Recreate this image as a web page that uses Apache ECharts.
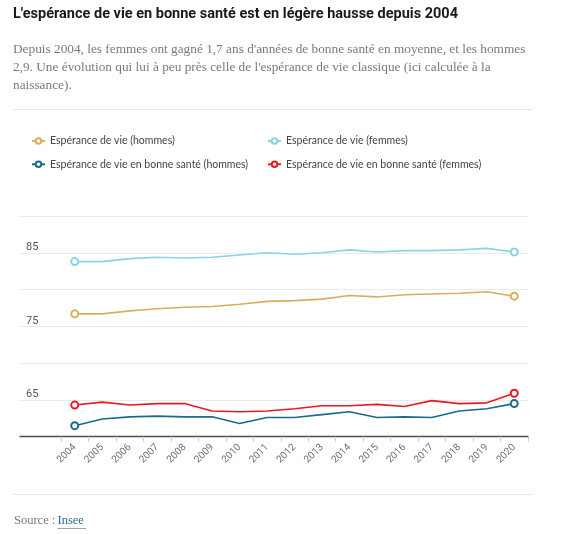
<!DOCTYPE html>
<html>
<head>
<meta charset="utf-8">
<script src="https://cdn.jsdelivr.net/npm/echarts@6/dist/echarts.min.js"></script>
<style>
  html, body { margin: 0; padding: 0; background: #fff; }
  #main { width: 561px; height: 534px; }
</style>
</head>
<body>
<div id="main"></div>
<script>
// années et valeurs
const years = ['2004', '2005', '2006', '2007', '2008', '2009', '2010', '2011', '2012',
  '2013', '2014', '2015', '2016', '2017', '2018', '2019', '2020'];
const esperanceHommes = [76.7, 76.7, 77.1, 77.4, 77.6, 77.7, 78.0, 78.4, 78.5, 78.7, 79.2, 79.0, 79.3, 79.4, 79.5, 79.7, 79.1];
const esperanceFemmes = [83.8, 83.8, 84.2, 84.4, 84.3, 84.4, 84.7, 85.0, 84.8, 85.0, 85.4, 85.1, 85.3, 85.3, 85.4, 85.6, 85.1];
const santeHommes = [61.5, 62.4, 62.7, 62.8, 62.7, 62.7, 61.8, 62.6, 62.6, 63.0, 63.4, 62.6, 62.7, 62.6, 63.5, 63.8, 64.5];
const santeFemmes = [64.3, 64.7, 64.3, 64.5, 64.5, 63.5, 63.4, 63.5, 63.8, 64.2, 64.2, 64.4, 64.1, 64.9, 64.5, 64.6, 65.9];
const yLabels = [65, 75, 85];

const chart = echarts.init(document.getElementById('main'));

// cercle seulement au premier et au dernier point
const ends = (arr) => arr.map((v, i) =>
  (i === 0 || i === arr.length - 1) ? v : { value: v, symbol: 'none' });

const mkSeries = (name, data, color) => ({
  name: name,
  type: 'line',
  xAxisIndex: 1,
  yAxisIndex: 1,
  data: ends(data),
  symbol: 'emptyCircle',
  symbolSize: 7,
  color: color,
  lineStyle: { width: 1.6, color: color },
  itemStyle: { color: color, borderWidth: 1.6 },
  emphasis: { disabled: true },
  z: 3
});

const legendText = { fontFamily: 'Lato', fontSize: 10.5, color: '#444', lineHeight: 14 };

chart.setOption({
  animation: false,
  title: [
    {
      text: "L'espérance de vie en bonne santé est en légère hausse depuis 2004",
      left: 8, top: 2,
      textStyle: { fontFamily: 'Roboto', fontWeight: 'bold', fontSize: 14.5, color: '#1a1a1a' }
    },
    {
      text: "Depuis 2004, les femmes ont gagné 1,7 ans d'années de bonne santé en moyenne, et les hommes\n2,9. Une évolution qui lui à peu près celle de l'espérance de vie classique (ici calculée à la\nnaissance).",
      left: 8, top: 35,
      textStyle: { fontFamily: 'Liberation Serif', fontWeight: 'normal', fontSize: 13.3, lineHeight: 18.3, color: '#7a7a7a' }
    }
  ],
  legend: [
    {
      left: 26, top: 129, orient: 'vertical',
      itemWidth: 13, itemHeight: 7, itemGap: 9.3,
      data: ['Espérance de vie (hommes)', 'Espérance de vie en bonne santé (hommes)'],
      textStyle: legendText
    },
    {
      left: 262, top: 129, orient: 'vertical',
      itemWidth: 13, itemHeight: 7, itemGap: 9.3,
      data: ['Espérance de vie (femmes)', 'Espérance de vie en bonne santé (femmes)'],
      textStyle: legendText
    }
  ],
  grid: [
    { left: 20, right: 33, top: 216, bottom: 97.3 },
    { left: 61, right: 33, top: 216, bottom: 97.3 }
  ],
  xAxis: [
    {
      gridIndex: 0, type: 'category', data: years,
      axisLine: { show: true, lineStyle: { color: '#4a4f54', width: 1.3 } },
      axisTick: { show: false }, axisLabel: { show: false }, splitLine: { show: false }
    },
    {
      gridIndex: 1, type: 'category', data: years, boundaryGap: true,
      axisLine: { show: false },
      axisTick: { show: true, interval: 0, length: 5, lineStyle: { color: '#cfcfcf' } },
      axisLabel: { interval: 0, rotate: 45, margin: 9, fontFamily: 'Roboto', fontSize: 10, color: '#707070' }
    }
  ],
  yAxis: [
    {
      gridIndex: 0, type: 'value', min: 60, max: 90, interval: 5,
      axisLine: { show: false }, axisTick: { show: false },
      splitLine: { lineStyle: { color: '#ebebeb', width: 1 } },
      axisLabel: {
        inside: true, margin: 6, verticalAlign: 'bottom', align: 'left',
        fontFamily: 'Roboto', fontSize: 11, color: '#555',
        formatter: (v) => yLabels.includes(v) ? String(v) : ''
      }
    },
    {
      gridIndex: 1, type: 'value', min: 60, max: 90, interval: 5, show: false
    }
  ],
  series: [
    mkSeries('Espérance de vie (hommes)', esperanceHommes, '#dcae5c'),
    mkSeries('Espérance de vie (femmes)', esperanceFemmes, '#8ad2e4'),
    mkSeries('Espérance de vie en bonne santé (hommes)', santeHommes, '#1b6a8a'),
    mkSeries('Espérance de vie en bonne santé (femmes)', santeFemmes, '#e31b23')
  ],
  graphic: [
    { type: 'line', shape: { x1: 13, y1: 109.5, x2: 533, y2: 109.5 }, style: { stroke: '#e6e6e6', lineWidth: 1 } },
    { type: 'line', shape: { x1: 13, y1: 494.5, x2: 533, y2: 494.5 }, style: { stroke: '#e6e6e6', lineWidth: 1 } },
    {
      type: 'text', left: 14, top: 514,
      style: { text: 'Source :', font: '12.5px "Liberation Serif"', fill: '#7a7a7a' }
    },
    {
      type: 'text', left: 57.5, top: 514,
      style: { text: 'Insee', font: '12.5px "Liberation Serif"', fill: '#2b6f8e' }
    },
    { type: 'line', shape: { x1: 57.5, y1: 528.5, x2: 86, y2: 528.5 }, style: { stroke: '#9aa5ab', lineWidth: 1 } }
  ]
});
</script>
</body>
</html>
